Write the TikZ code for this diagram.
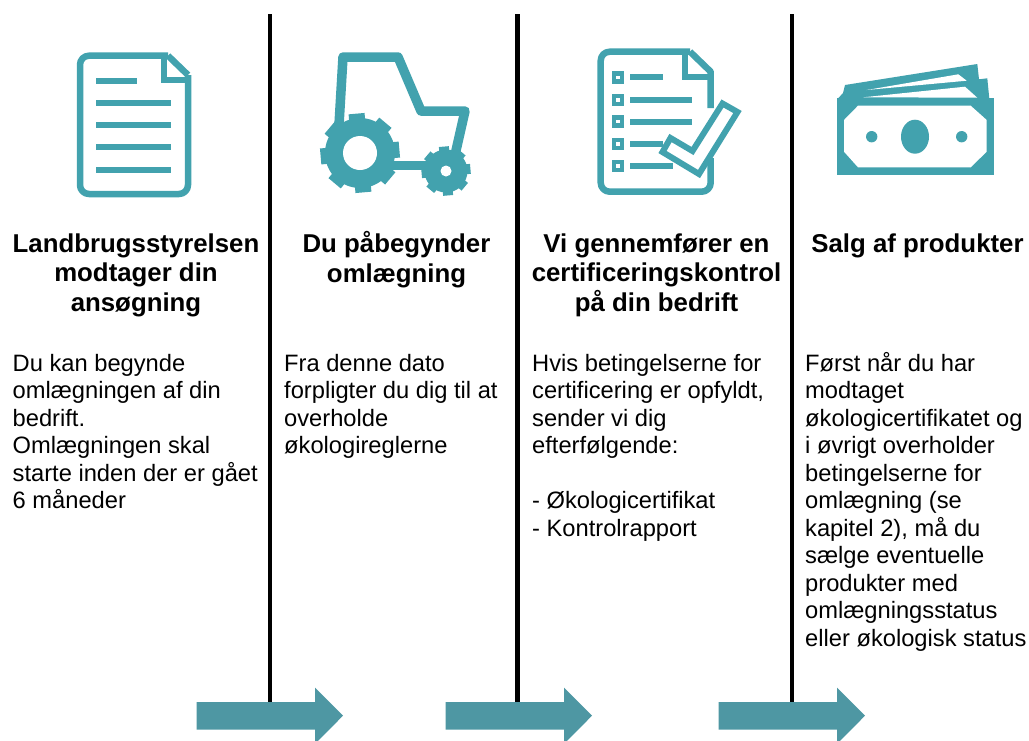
\documentclass[tikz,border=0pt]{standalone}
\usepackage{fontspec}
\setmainfont{Liberation Sans}
\definecolor{iconteal}{HTML}{42A2AE}
\definecolor{arrowteal}{HTML}{4E97A3}
\tikzset{
  iconline/.style={draw=iconteal,line width=6.5pt,line join=round},
  thinline/.style={draw=iconteal,line width=6pt},
  iconfill/.style={fill=iconteal,draw=none},
  divider/.style={draw=black,line width=4.5pt},
  flowarrow/.style={fill=arrowteal,draw=none},
  titletext/.style={anchor=north,align=center,inner sep=0pt,font=\fontsize{25.8}{29.5}\selectfont\bfseries},
  bodytext/.style={anchor=north west,align=left,inner sep=0pt,font=\fontsize{23.7}{27.5}\selectfont},
}
\newcommand{\gearwheel}[6]{% x y body teeth-outer toothwidth hole
  \begin{scope}[shift={(#1,#2)}]
    \fill[iconteal] (0,0) circle[radius=#3];
    \foreach \a in {0,45,...,315}{
      \fill[iconteal,rotate=\a+5] (#3-2,-#5) rectangle (#4,#5);
    }
    \fill[white] (0,0) circle[radius=#6];
  \end{scope}
}
\begin{document}
\begin{tikzpicture}[x=1pt,y=-1pt]
\useasboundingbox (0,0) rectangle (1029,740);
\fill[white] (0,0) rectangle (1029,740);
% dividers
\coordinate (d1t) at (270,14); \coordinate (d1b) at (270,703);
\coordinate (d2t) at (517.5,14); \coordinate (d2b) at (517.5,703);
\coordinate (d3t) at (792,14); \coordinate (d3b) at (792,703);
\draw[divider] (d1t)--(d1b);
\draw[divider] (d2t)--(d2b);
\draw[divider] (d3t)--(d3b);
% arrows
\foreach \x in {196.5,445.5,718.5}{
  \fill[flowarrow] (\x,702) -- ++(118.5,0) -- ++(0,-14.5) -- ++(28,28.2) -- ++(-28,28.2) -- ++(0,-14.2) -- ++(-118.5,0) -- cycle;
}
% document icon
\draw[iconline,rounded corners=9pt] (168,55.7) -- (80,55.7) -- (80,194) -- (188,194) -- (188,75);
\draw[iconline] (168,55.7) -- (188,75);
\draw[thinline,line join=miter] (164,55.7) -- (164,80) -- (188,80);
\foreach \y/\e in {80.7/137,103/171,125/171,147/171,169.5/171}{
  \draw[thinline] (96,\y) -- (\e,\y);
}
% tractor
\draw[draw=iconteal,line width=9.5pt,line join=round] (339,125) -- (343,57) -- (398,57) -- (421,111) -- (465,111) -- (455,155);
\draw[draw=iconteal,line width=9pt] (390,165) -- (430,165);
\gearwheel{360}{153}{35}{39.5}{8}{17}
\gearwheel{446}{171}{21.5}{24.5}{5}{5.5}
% checklist icon
\draw[iconline,rounded corners=9pt] (690,51.7) -- (600.7,51.7) -- (600.7,191.7) -- (710.7,191.7) -- (710.7,158);
\draw[iconline] (690,51.7) -- (710.7,71.7) -- (710.7,108);
\draw[thinline,line join=miter] (685,51.7) -- (685,76.7) -- (710.7,76.7);
\foreach \y/\e in {77.3/662.7,100/691.7,121.5/691.7,144/663,166/673}{
  \draw[thinline] (630,\y) -- (\e,\y);
  \draw[draw=iconteal,line width=4.5pt,fill=white] (618,\y) ++(-4,-4) rectangle ++(8,8);
}
\draw[draw=iconteal,line width=6pt,fill=white,line join=miter] (722.5,103.5) -- (737.5,112) -- (699,174) -- (662.5,152) -- (670.5,138) -- (692.5,151) -- cycle;
% money icon
\fill[iconteal] (845,85) -- (977.3,64) -- (979,79.3) -- (987.3,78.3) -- (989.3,98.5) -- (838,98.5) -- (843,93) -- cycle;
\fill[white] (866.7,90) -- (958.3,74.3) -- (966.7,80.7) -- cycle;
\fill[white] (863.3,97.3) -- (965,86.7) -- (977.3,97.7) -- cycle;
\fill[iconteal] (836.7,98.3) rectangle (994,175);
\fill[white] (858,105.7) -- (970.7,105.7) -- (986.7,120) -- (986.7,151.7) -- (970.7,167.3) -- (858,167.3) -- (844,151.7) -- (844,120) -- cycle;
\fill[iconteal] (915,136.7) ellipse[x radius=14,y radius=17];
\fill[iconteal] (871.7,136.7) circle[radius=5.7];
\fill[iconteal] (961.7,136.7) circle[radius=5.7];
% titles
\node[titletext] (t1) at (136,231.5) {\strut Landbrugsstyrelsen\\modtager din\\ansøgning};
\node[titletext] (t2) at (396.5,231.5) {\strut Du påbegynder\\omlægning};
\node[titletext] (t3) at (656.5,231.5) {\strut Vi gennemfører en\\certificeringskontrol\\på din bedrift};
\node[titletext] (t4) at (917.5,231.5) {\strut Salg af produkter};
% bodies
\node[bodytext] (b1) at (12.5,352) {\strut Du kan begynde\\omlægningen af din\\bedrift.\\Omlægningen skal\\starte inden der er gået\\6 måneder};
\node[bodytext] (b2) at (284,352) {\strut Fra denne dato\\forpligter du dig til at\\overholde\\økologireglerne};
\node[bodytext] (b3) at (532,352) {\strut Hvis betingelserne for\\certificering er opfyldt,\\sender vi dig\\efterfølgende:\\\mbox{}\\- Økologicertifikat\\- Kontrolrapport};
\node[bodytext] (b4) at (805,352) {\strut Først når du har\\modtaget\\økologicertifikatet og\\i øvrigt overholder\\betingelserne for\\omlægning (se\\kapitel 2), må du\\sælge eventuelle\\produkter med\\omlægningsstatus\\eller økologisk status};
\end{tikzpicture}
\end{document}
